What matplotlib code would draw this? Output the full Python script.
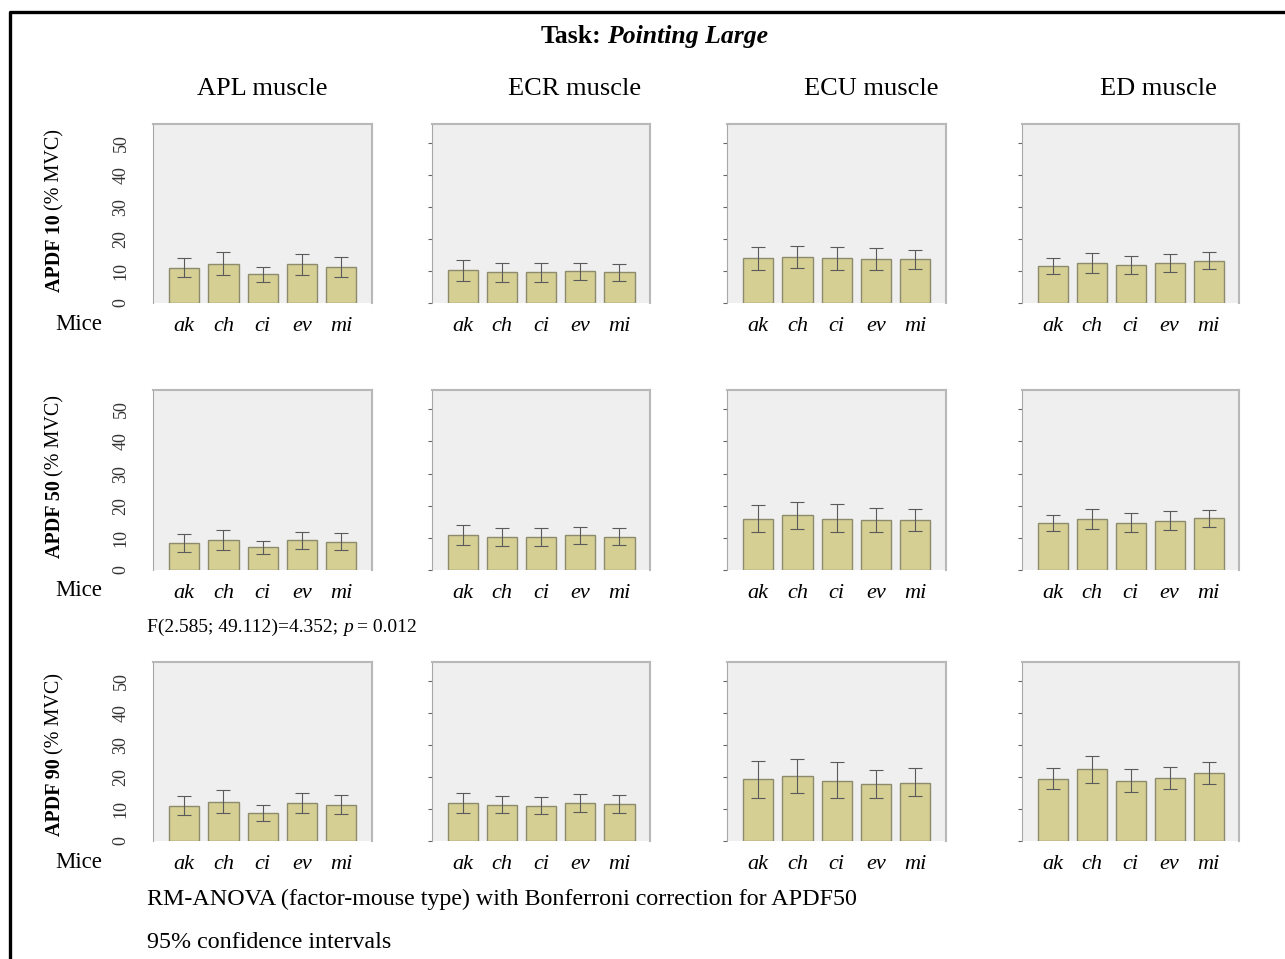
import matplotlib
matplotlib.use("Agg")
import matplotlib.pyplot as plt
from matplotlib.lines import Line2D

plt.rcParams['font.family'] = ['Liberation Serif', 'DejaVu Serif']

mice = ['ak', 'ch', 'ci', 'ev', 'mi']
muscles = ['APL', 'ECR', 'ECU', 'ED']
levels = ['10', '50', '90']

# rows: APL, ECR, ECU, ED
apdf10_mean = [[11.0, 12.3, 9.0, 12.1, 11.2],
               [10.2, 9.6, 9.6, 10.0, 9.6],
               [14.0, 14.4, 14.0, 13.8, 13.7],
               [11.6, 12.5, 12.0, 12.6, 13.2]]
apdf10_lo = [[8.1, 8.8, 6.6, 8.8, 8.2],
             [6.8, 6.6, 6.5, 7.2, 6.8],
             [10.4, 11.0, 10.4, 10.3, 10.7],
             [9.1, 9.5, 9.2, 9.7, 10.6]]
apdf10_hi = [[14.0, 15.8, 11.2, 15.3, 14.3],
             [13.4, 12.4, 12.4, 12.6, 12.2],
             [17.6, 17.9, 17.6, 17.2, 16.7],
             [14.0, 15.6, 14.8, 15.4, 15.8]]

apdf50_mean = [[8.5, 9.3, 7.1, 9.3, 8.8],
               [10.9, 10.3, 10.2, 10.8, 10.4],
               [16.0, 17.0, 16.0, 15.6, 15.6],
               [14.5, 15.9, 14.7, 15.3, 16.2]]
apdf50_lo = [[5.6, 6.3, 5.0, 6.6, 6.2],
             [7.7, 7.5, 7.4, 8.1, 7.7],
             [11.9, 12.8, 11.9, 11.9, 12.1],
             [12.0, 12.7, 11.8, 12.4, 13.5]]
apdf50_hi = [[11.2, 12.3, 9.1, 11.8, 11.4],
             [14.1, 13.2, 13.1, 13.5, 13.1],
             [20.1, 21.3, 20.4, 19.4, 18.9],
             [17.0, 18.9, 17.7, 18.4, 18.8]]

apdf90_mean = [[10.9, 12.2, 8.9, 12.0, 11.2],
               [11.9, 11.2, 11.0, 11.9, 11.6],
               [19.3, 20.4, 18.9, 17.9, 18.3],
               [19.4, 22.5, 18.9, 19.7, 21.2]]
apdf90_lo = [[8.0, 8.7, 6.4, 8.7, 8.3],
             [8.8, 8.7, 8.3, 9.0, 8.9],
             [13.4, 14.9, 13.4, 13.4, 14.2],
             [16.2, 18.3, 15.3, 16.2, 17.8]]
apdf90_hi = [[14.0, 15.8, 11.2, 15.1, 14.3],
             [15.0, 14.2, 13.9, 14.7, 14.3],
             [25.1, 25.7, 24.6, 22.3, 22.7],
             [22.7, 26.6, 22.5, 23.2, 24.6]]

yticks = [0, 10, 20, 30, 40, 50]

means = [apdf10_mean, apdf50_mean, apdf90_mean]
los = [apdf10_lo, apdf50_lo, apdf90_lo]
his = [apdf10_hi, apdf50_hi, apdf90_hi]

W, H = 1285, 959
fig = plt.figure(figsize=(W / 100, H / 100), dpi=100)
fig.patch.set_facecolor('white')

# panel boxes in pixels (left, width) and (top, bottom)
col_x = [(153, 219), (432, 218), (727, 219), (1022, 217)]
row_y = [(124, 303), (390, 570), (662, 841)]
title_x = [262, 575, 871, 1158]

bar_col = '#d5cf94'
edge_col = '#8d8b6c'

for r in range(3):
    for c in range(4):
        x0, w = col_x[c]
        t, b = row_y[r]
        ax = fig.add_axes([x0 / W, 1 - b / H, w / W, (b - t) / H])
        ax.set_facecolor('#efefef')
        m = means[r][c]
        err = [[m[i] - los[r][c][i] for i in range(5)],
               [his[r][c][i] - m[i] for i in range(5)]]
        ax.bar(range(5), m, width=0.77, color=bar_col, edgecolor=edge_col,
               linewidth=1.0, zorder=2)
        ax.errorbar(range(5), m, yerr=err, fmt='none', ecolor='#5a5a5a',
                    elinewidth=0.8, capsize=5, capthick=0.8, zorder=3)
        ax.set_xlim(-0.79, 4.78)
        ax.set_ylim(0.5, 56)
        ax.set_xticks(range(5))
        ax.set_xticklabels(mice, fontsize=16, style='italic')
        ax.tick_params(axis='x', length=0, pad=10)
        ax.set_yticks(yticks)
        if c == 0:
            ax.set_yticklabels([str(v) for v in yticks], rotation=90,
                               va='center', fontsize=13, color='#333333')
            ax.tick_params(axis='y', length=0, pad=17)
        else:
            ax.set_yticklabels([])
            ax.tick_params(axis='y', length=3, width=0.8, color='#666666')
        for side in ['top', 'right']:
            ax.spines[side].set_color('#b8b8b8')
            ax.spines[side].set_linewidth(1.5)
        ax.spines['left'].set_color('#a8a8a8')
        ax.spines['left'].set_linewidth(0.8)
        ax.spines['bottom'].set_visible(False)

renderer = fig.canvas.get_renderer()


def put_runs(x, y, parts, rotation=0, align='left'):
    # parts: (text, kwargs, gap in px after)
    arts, sizes = [], []
    for s, kw, gap in parts:
        tx = fig.text(0, 0, s, rotation=rotation, rotation_mode='anchor',
                      ha='left', va='baseline' if rotation == 0 else 'center',
                      **kw)
        bb = tx.get_window_extent(renderer=renderer)
        arts.append(tx)
        sizes.append((bb.width if rotation == 0 else bb.height) + gap)
    total = sum(sizes)
    pos = x - total / 2 if align == 'center' else x
    if rotation != 0:
        pos = y
    for tx, sz in zip(arts, sizes):
        if rotation == 0:
            tx.set_position((pos / W, 1 - y / H))
            pos += sz
        else:
            tx.set_position((x / W, 1 - pos / H))
            pos -= sz


# title
put_runs(654, 43, [('Task:', dict(fontsize=18.5, weight='bold'), 6),
                   ('Pointing Large', dict(fontsize=18.5, weight='bold',
                                            style='italic'), 0)],
         align='center')

for c in range(4):
    fig.text(title_x[c] / W, 1 - 89 / H, muscles[c] + ' muscle',
             ha='center', va='center', fontsize=19)

mice_y = [324, 591, 862]
ylab_bottom = [292, 558, 836]
for r in range(3):
    fig.text(55 / W, 1 - mice_y[r] / H, 'Mice', ha='left', va='center',
             fontsize=16.5)
    put_runs(55, ylab_bottom[r],
             [('APDF ' + levels[r], dict(fontsize=14.5, weight='bold'), 4),
              ('(% MVC)', dict(fontsize=14.5), 0)], rotation=90)

put_runs(147, 632, [('F(2.585; 49.112)=4.352;', dict(fontsize=14), 5),
                    ('p', dict(fontsize=14, style='italic'), 4),
                    ('= 0.012', dict(fontsize=14), 0)])

fig.text(147 / W, 1 - 905 / H,
         'RM-ANOVA (factor-mouse type) with Bonferroni correction for APDF50',
         ha='left', va='baseline', fontsize=17.3)
fig.text(147 / W, 1 - 948 / H, '95% confidence intervals',
         ha='left', va='baseline', fontsize=17.3)

# frame lines (top and left)
fig.add_artist(Line2D([10 / W, 10 / W, 1.0], [0.0, 1 - 12 / H, 1 - 12 / H],
                      transform=fig.transFigure, color='black', lw=2.4))

fig.savefig('out.png', dpi=100)
